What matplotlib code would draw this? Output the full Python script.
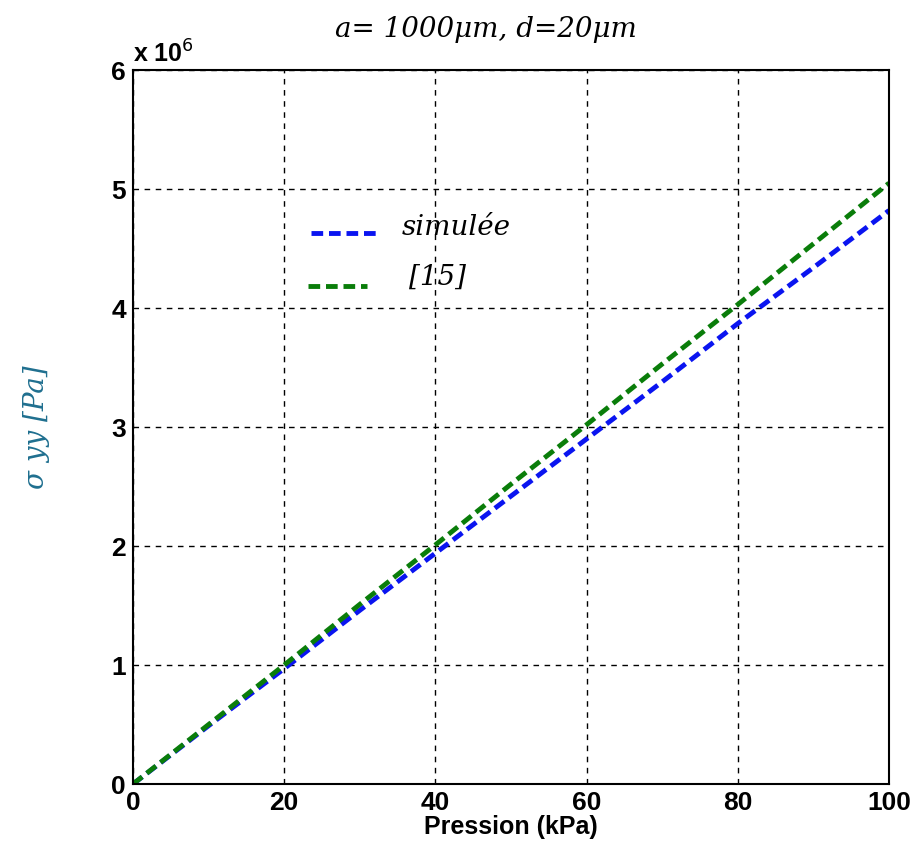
import matplotlib
matplotlib.use("Agg")
import matplotlib.pyplot as plt
from matplotlib import font_manager

pression = [0, 10, 20, 30, 40, 50, 60, 70, 80, 90, 100]
simulee = [0, 0.49, 0.97, 1.46, 1.94, 2.42, 2.90, 3.38, 3.87, 4.34, 4.82]
ref15 = [0, 0.50, 1.00, 1.51, 2.01, 2.52, 3.02, 3.53, 4.03, 4.54, 5.05]
xticks = [0, 20, 40, 60, 80, 100]
yticks = [0, 1, 2, 3, 4, 5, 6]

names = {f.name for f in font_manager.fontManager.ttflist}
tickfont = "Liberation Sans Narrow" if "Liberation Sans Narrow" in names else "Liberation Sans"

fig = plt.figure(figsize=(9.16, 8.55), dpi=100)
ax = fig.add_axes([0.1452, 0.083, 0.8253, 0.835])
ax.plot(pression, simulee, color="#0a14f0", lw=3.5, ls=(0, (2.4, 1.2)))
ax.plot(pression, ref15, color="#0a7d0a", lw=3.5, ls=(0, (2.4, 1.2)))
ax.set_xlim(0, 100)
ax.set_ylim(0, 6)
ax.set_xticks(xticks)
ax.set_yticks(yticks)
ax.grid(True, color="black", ls=(0, (4, 4)), lw=1.0)
for s in ax.spines.values():
    s.set_linewidth(1.5)
ax.tick_params(direction="in", length=0, labelsize=19, pad=5)
for lab in ax.get_xticklabels() + ax.get_yticklabels():
    lab.set_fontfamily(tickfont)
    lab.set_fontweight("bold")
ax.set_xlabel("Pression (kPa)", fontsize=18, fontweight="bold", family=tickfont, labelpad=0)
ax.set_ylabel("σ yy [Pa]", fontsize=20, style="italic", family="DejaVu Serif",
              color="#1f6f8f", labelpad=44)
ax.text(0.0, 1.003, "x 10$^{6}$", transform=ax.transAxes, fontsize=18,
        fontweight="bold", family=tickfont, va="bottom", ha="left")
fig.text(0.53, 0.965, "a= 1000μm, d=20μm", fontsize=20, style="italic",
         family="DejaVu Serif", ha="center", va="center")

# legend drawn as lines in axes coordinates
ax.plot([0.235, 0.325], [0.772, 0.772], transform=ax.transAxes, color="#0a14f0",
        lw=3.5, ls=(0, (2.4, 1.2)))
ax.plot([0.232, 0.31], [0.697, 0.697], transform=ax.transAxes, color="#0a7d0a",
        lw=3.5, ls=(0, (2.4, 1.2)))
ax.text(0.355, 0.78, "simulée", transform=ax.transAxes, fontsize=20, style="italic",
        family="DejaVu Serif", va="center")
ax.text(0.365, 0.71, "[15]", transform=ax.transAxes, fontsize=20, style="italic",
        family="DejaVu Serif", va="center")

fig.savefig("out.png", dpi=100)
